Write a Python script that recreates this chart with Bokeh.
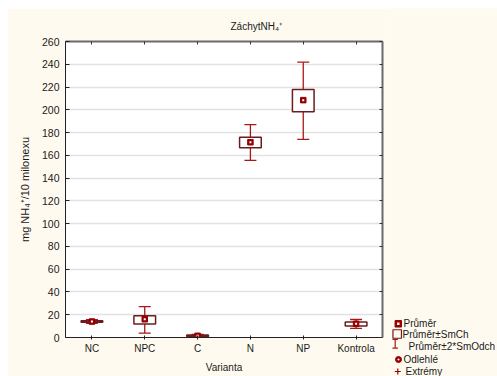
from bokeh.plotting import figure
from bokeh.models import (FactorRange, Range1d, LinearAxis, CategoricalAxis, Title,
                          FixedTicker, ColumnDataSource)
from bokeh.layouts import row, column
from bokeh.embed import file_html
from bokeh.resources import INLINE

# ---- data ----
categories = ["NC", "NPC", "C", "N", "NP", "Kontrola"]
mean = [14.0, 16.0, 1.5, 171.5, 208.5, 12.0]
se_low = [13.3, 11.8, 0.9, 166.6, 198.2, 10.2]
se_high = [14.7, 19.2, 2.1, 176.0, 217.8, 13.6]
sd2_low = [12.4, 3.8, 0.3, 155.5, 174.0, 8.0]
sd2_high = [15.6, 27.2, 2.7, 187.0, 241.8, 15.8]
y_ticks = list(range(0, 261, 20))
legend_labels = ["Průměr", "Průměr±SmCh", "Průměr±2*SmOdch", "Odlehlé", "Extrémy"]
title_text = "ZáchytNH\u2084\u207a"
x_label = "Varianta"
y_label = "mg NH\u2084\u207a/10 milonexu"

FONT = "Liberation Sans"
BG = "#fffaf0"
TXT = "#1a1a1a"
BOXC = "#6b1c1c"
WHISK = "#a81818"
MEANC = "#960000"
Y_MAX = 260

# ---------------- main chart ----------------
p = figure(width=383, height=368, x_range=FactorRange(*categories), y_range=Range1d(0, Y_MAX),
           output_backend="svg", toolbar_location=None,
           min_border_left=58, min_border_right=8, min_border_top=33, min_border_bottom=39)
p.margin = (8, 0, 0, 7)
p.background_fill_color = "white"
p.border_fill_color = BG
p.outline_line_color = None

p.title = Title(text=title_text, align="left", offset=165, text_font=FONT,
                text_font_size="10px", text_font_style="normal", text_color=TXT, standoff=20)

p.xgrid.visible = False
p.ygrid.ticker = FixedTicker(ticks=y_ticks)
p.ygrid.grid_line_color = "#e2e2e2"
p.ygrid.grid_line_width = 1.5

xa = p.xaxis[0]
xa.axis_label = x_label
xa.axis_label_text_font = FONT
xa.axis_label_text_font_size = "10px"
xa.axis_label_text_font_style = "normal"
xa.axis_label_text_color = TXT
xa.axis_label_standoff = 5
xa.major_label_text_font = FONT
xa.major_label_text_font_size = "10px"
xa.major_label_text_color = TXT
xa.major_label_standoff = 3
xa.major_tick_in = 2
xa.major_tick_out = 2
xa.axis_line_color = "#222222"
xa.major_tick_line_color = "#222222"

ya = p.yaxis[0]
ya.ticker = FixedTicker(ticks=y_ticks)
ya.axis_label = y_label
ya.axis_label_text_font = FONT
ya.axis_label_text_font_size = "11px"
ya.axis_label_text_font_style = "normal"
ya.axis_label_text_color = TXT
ya.axis_label_standoff = 8
ya.major_label_text_font = FONT
ya.major_label_text_font_size = "10.5px"
ya.major_label_text_color = TXT
ya.major_label_standoff = 6
ya.major_tick_in = 4
ya.major_tick_out = 0
ya.minor_tick_line_color = None
ya.axis_line_color = "#222222"
ya.major_tick_line_color = "#222222"

ra = LinearAxis(ticker=FixedTicker(ticks=y_ticks), major_label_text_font_size="1px",
                major_label_text_color=None, major_tick_in=3, major_tick_out=0,
                minor_tick_line_color=None, axis_line_color="#6a6a6a", axis_line_width=2,
                major_tick_line_color="#333333", major_label_standoff=0)
p.add_layout(ra, "right")
ta = CategoricalAxis(major_label_text_font_size="1px", major_label_text_color=None,
                     major_tick_in=3, major_tick_out=0, axis_line_color="#6a6a6a",
                     axis_line_width=2, major_tick_line_color="#333333", major_label_standoff=0)
p.add_layout(ta, "above")

src = ColumnDataSource(dict(cat=categories, mean=mean, se_low=se_low, se_high=se_high,
                            sd2_low=sd2_low, sd2_high=sd2_high))

p.segment(x0="cat", y0="sd2_low", x1="cat", y1="sd2_high", source=src,
          line_color=WHISK, line_width=1.3)
p.scatter(x="cat", y="sd2_high", source=src, marker="dash", size=12,
          line_color=WHISK, line_width=1.3)
p.scatter(x="cat", y="sd2_low", source=src, marker="dash", size=12,
          line_color=WHISK, line_width=1.3)
p.vbar(x="cat", width=0.41, bottom="se_low", top="se_high", source=src,
       fill_color="white", line_color=BOXC, line_width=1.5)
p.scatter(x="cat", y="mean", source=src, marker="square", size=5.5,
          fill_color=MEANC, line_color=MEANC, line_width=1)
p.scatter(x="cat", y="mean", source=src, marker="square", size=2,
          fill_color="white", line_color=None)

# ---------------- legend panel (pixel-mapped figure) ----------------
LX0, LX1, LY0, LY1 = 390, 497, 8, 376
lg = figure(width=LX1 - LX0, height=LY1 - LY0, x_range=Range1d(LX0, LX1),
            y_range=Range1d(LY1, LY0), output_backend="svg", toolbar_location=None,
            x_axis_type=None, y_axis_type=None,
            min_border_left=0, min_border_right=0, min_border_top=0, min_border_bottom=0)
lg.background_fill_color = BG
lg.border_fill_color = BG
lg.outline_line_color = None
lg.xgrid.visible = False
lg.ygrid.visible = False

lg.scatter(x=[397.8], y=[323.3], marker="square", size=6.5, fill_color=MEANC,
           line_color=MEANC, line_width=1)
lg.scatter(x=[397.8], y=[323.3], marker="square", size=2.4, fill_color="white", line_color=None)
lg.scatter(x=[396.7], y=[333.5], marker="square", size=8.5, fill_color=None,
           line_color=BOXC, line_width=1.2)
lg.segment(x0=[394.7], y0=[338.8], x1=[394.7], y1=[347.6], line_color=WHISK, line_width=1.2)
lg.scatter(x=[394.7, 394.7], y=[338.8, 347.6], marker="dash", size=5.5,
           line_color=WHISK, line_width=1.2)
lg.scatter(x=[398.0], y=[359.0], marker="circle", size=6, fill_color=MEANC,
           line_color=MEANC, line_width=1)
lg.scatter(x=[398.0], y=[359.0], marker="circle", size=2, fill_color="white", line_color=None)
lg.scatter(x=[397.3], y=[371.0], marker="cross", size=6, line_color=MEANC, line_width=1.2)

row_x = [403, 402, 408, 403, 405]
row_y = [322.8, 333.8, 345.5, 358.7, 371.3]
lg.text(x=row_x, y=row_y, text=legend_labels, text_align="left", text_baseline="middle",
        text_font={"value": FONT}, text_font_size="10px", text_color=TXT)

lg_box = column(lg)
lg_box.margin = (8, 0, 0, 0)
layout = row(p, lg_box)
open("out.html", "w").write(file_html(layout, INLINE))
